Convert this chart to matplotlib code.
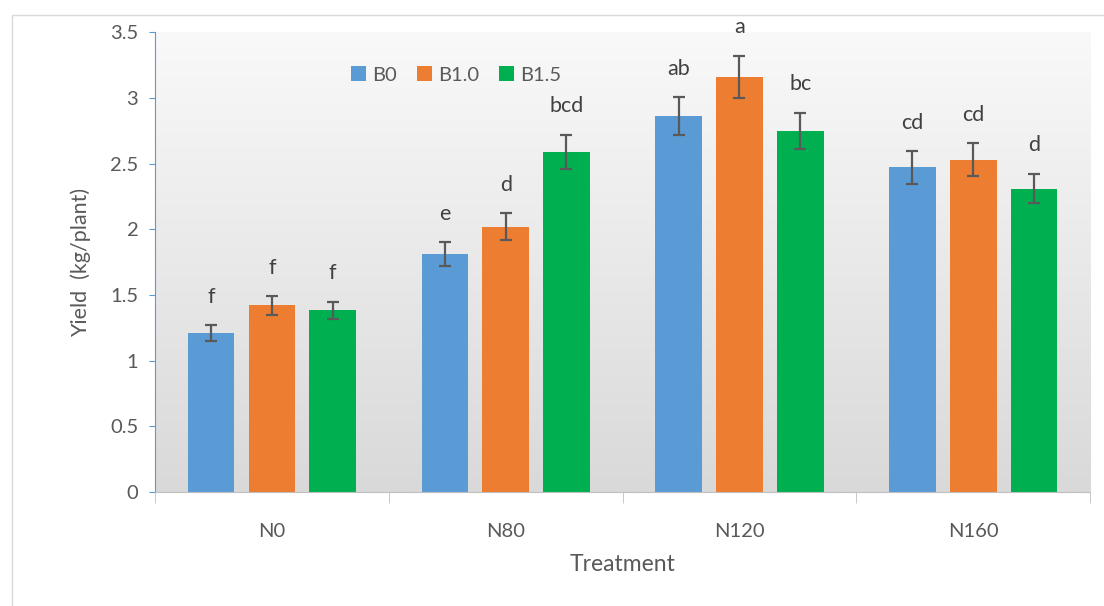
import numpy as np
import matplotlib
matplotlib.use("Agg")
import matplotlib.pyplot as plt
from matplotlib.patches import Rectangle

plt.rcParams['font.family'] = ['Lato', 'DejaVu Sans']

treatments = ["N0", "N80", "N120", "N160"]
series = ["B0", "B1.0", "B1.5"]
colors = ["#5B9BD5", "#ED7D31", "#00B050"]

yield_b0 = [1.21, 1.81, 2.86, 2.47]
yield_b10 = [1.42, 2.02, 3.16, 2.53]
yield_b15 = [1.385, 2.59, 2.75, 2.31]

err_b0 = [0.06, 0.09, 0.143, 0.124]
err_b10 = [0.07, 0.10, 0.16, 0.125]
err_b15 = [0.065, 0.13, 0.138, 0.114]

letters_b0 = ["f", "e", "ab", "cd"]
letters_b10 = ["f", "d", "a", "cd"]
letters_b15 = ["f", "bcd", "bc", "d"]

values = [yield_b0, yield_b10, yield_b15]
errors = [err_b0, err_b10, err_b15]
letters = [letters_b0, letters_b10, letters_b15]

txt = "#595959"
fig = plt.figure(figsize=(11.04, 6.06), dpi=100)
ax = fig.add_axes([0.1404, 0.188, 0.847, 0.759])

# outer chart frame
fig.patches.append(Rectangle((12 / 1104, -0.01), 1.0, (606 - 15) / 606 + 0.01,
                             transform=fig.transFigure, fill=False,
                             edgecolor="#D9D9D9", linewidth=1))

# gradient background
grad = np.linspace(0, 1, 256).reshape(-1, 1)
ax.imshow(grad, extent=[0, 1, 0, 1], transform=ax.transAxes, aspect="auto",
          cmap=matplotlib.colors.LinearSegmentedColormap.from_list("g", ["#D9D9D9", "#F9F9F9"]),
          origin="lower", zorder=0)

x = np.arange(len(treatments))
width = 0.2
step = 0.26
for i, s in enumerate(series):
    pos = x + (i - 1) * step
    ax.bar(pos, values[i], width=width, color=colors[i], label=s, zorder=2)
    ax.errorbar(pos, values[i], yerr=errors[i], fmt="none", ecolor="#595959",
                elinewidth=1.6, capsize=4.5, capthick=1.6, zorder=3)
    for p, v, e, lab in zip(pos, values[i], errors[i], letters[i]):
        ax.text(p, v + e + 0.17, lab, ha="center", va="baseline", fontsize=15.5, color="#404040")

ax.set_xlim(-0.5, 3.5)
ax.set_ylim(0, 3.5)
ax.set_yticks(np.arange(0, 3.51, 0.5))
ax.set_yticklabels(["0", "0.5", "1", "1.5", "2", "2.5", "3", "3.5"])
ax.set_xticks(x)
ax.set_xticklabels(treatments)
ax.set_xticks(np.arange(-0.5, 3.6, 1.0), minor=True)
ax.tick_params(axis="x", which="major", length=0, pad=22, labelsize=14.5, labelcolor=txt)
ax.tick_params(axis="x", which="minor", length=8, color="#BFBFBF", direction="out")
ax.tick_params(axis="y", length=4, color="#5B9BD5", labelsize=14.5, labelcolor=txt, pad=8)

for sp in ["top", "right"]:
    ax.spines[sp].set_visible(False)
ax.spines["left"].set_color("#5B9BD5")
ax.spines["bottom"].set_color("#BFBFBF")

ax.set_xlabel("Treatment", fontsize=16.5, color=txt, labelpad=10)
ax.set_ylabel("Yield  (kg/plant)", fontsize=15.5, color=txt, labelpad=14)

ax.legend(loc="upper left", bbox_to_anchor=(0.19, 0.965), ncol=3, frameon=False,
          fontsize=14.5, labelcolor=txt, handlelength=0.75, handleheight=0.75,
          handletextpad=0.3, columnspacing=1.0)

plt.savefig("out.png", dpi=100)
